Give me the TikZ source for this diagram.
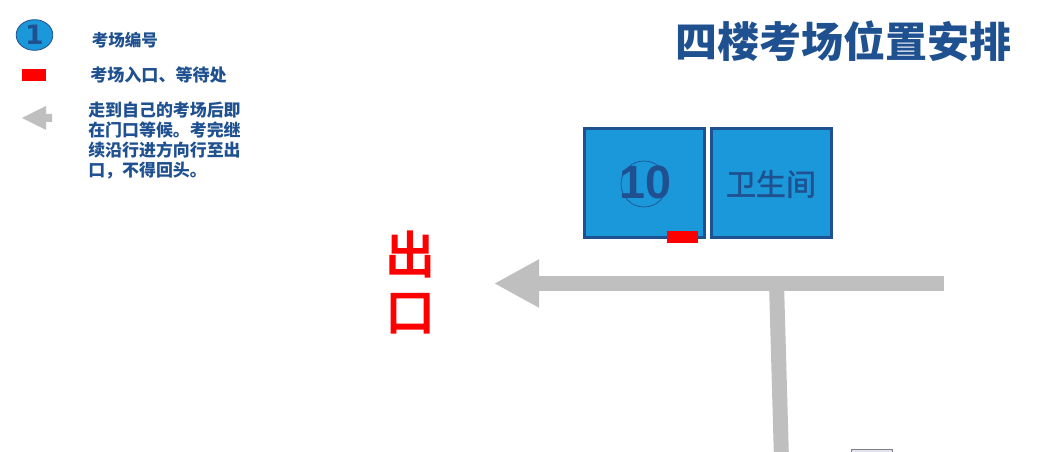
\documentclass[tikz,border=0pt]{standalone}
\usepackage{fontspec}
\setmainfont{Noto Sans CJK SC}
\newfontfamily\digitfont{Liberation Sans}
\newfontfamily\keyfont{DejaVu Sans}
\newfontfamily\heavyfont[FakeBold=4]{Noto Sans CJK SC}
\newfontfamily\wcfont[FakeBold=1.5]{Noto Sans CJK SC}
\usetikzlibrary{arrows.meta, shapes.geometric}
\definecolor{roomblue}{RGB}{27,152,217}
\definecolor{darkblue}{RGB}{31,80,144}
\definecolor{pathgray}{RGB}{191,191,191}
\definecolor{doorred}{RGB}{255,0,0}
\definecolor{tagfill}{RGB}{226,228,243}

\begin{document}
\begin{tikzpicture}[
  x=0.75pt, y=-0.75pt,
  room/.style={rectangle, draw=darkblue, fill=roomblue, line width=2.25pt,
               minimum width=90pt, minimum height=82pt, inner sep=0pt},
  door/.style={rectangle, fill=doorred, inner sep=0pt},
  legend/.style={font=\fontsize{12.4}{15}\selectfont\bfseries, text=darkblue,
                 inner sep=0pt, anchor=west, align=left},
  walk/.style={draw=pathgray, line width=11.25pt},
  walktip/.style={-{Triangle[length=33.75pt, width=33.75pt]}}
]
  \clip (0,0) rectangle (1045,452);

  %% --- Title ---
  \node[font=\fontsize{31.5}{36}\selectfont\bfseries, text=darkblue, inner sep=0pt]
    (title) at (843,41) {四楼考场位置安排};

  %% --- Legend ---
  \node[ellipse, draw=darkblue, fill=roomblue, line width=0.6pt, inner sep=0pt,
        minimum width=27.5pt, minimum height=23pt,
        font=\keyfont\fontsize{20}{20}\selectfont\bfseries, text=darkblue]
    (keyroom) at (34.5,35) {1};
  \node[legend] (keyroomtext) at (91.5,40) {考场编号};

  \node[door, minimum width=18pt, minimum height=9pt] (keydoor) at (34,75) {};
  \node[legend, font=\fontsize{12.8}{15}\selectfont\bfseries]
    (keydoortext) at (90,75) {考场入口、等待处};

  \fill[pathgray] (22,118) -- (46,106) -- (46,114) -- (52,114)
    -- (52,122) -- (46,122) -- (46,130) -- cycle;
  \node[legend, text width=116pt,
        font=\fontsize{12.7}{15}\selectfont\bfseries]
    (keywalktext) at (88,141)
    {走到自己的考场后即\\在门口等候。考完继\\续沿行进方向行至出\\口，不得回头。};

  %% --- Rooms ---
  \node[room] (room10) at (644.5,183) {};
  \node[room] (wc) at (771.5,183) {};
  \node[circle, draw=darkblue, line width=0.5pt, minimum size=34.5pt, inner sep=0pt]
    (roomring) at (644,184) {};
  \node[font=\digitfont\fontsize{35}{35}\selectfont\bfseries, text=darkblue, inner sep=0pt]
    (roomnum) at (645,182) {10};
  \node[font=\wcfont\fontsize{22.5}{26}\selectfont, text=darkblue, inner sep=0pt]
    (wctext) at (771,184) {卫生间};
  \node[door, minimum width=23pt, minimum height=9pt] (roomdoor) at (682.5,237) {};

  %% --- Exit label ---
  \node[font=\heavyfont\fontsize{37}{43}\selectfont, text=doorred, align=center, inner sep=0pt]
    (exit) at (410,282) {出\\口};

  %% --- Walking route ---
  \coordinate (routestart) at (944,283.5);
  \coordinate (routeend) at (494,283.5);
  \coordinate (branchtop) at (776.5,283.5);
  \coordinate (branchend) at (781.5,460);
  \draw[walk] (branchtop) -- (branchend);
  \draw[walk, walktip] (routestart) -- (routeend);

  %% --- Cut-off box at the lower edge ---
  \node[rectangle, draw=gray, fill=tagfill, line width=0.75pt,
        minimum width=31pt, minimum height=15pt, inner sep=0pt]
    (tag) at (872,459.5) {};
\end{tikzpicture}
\end{document}
